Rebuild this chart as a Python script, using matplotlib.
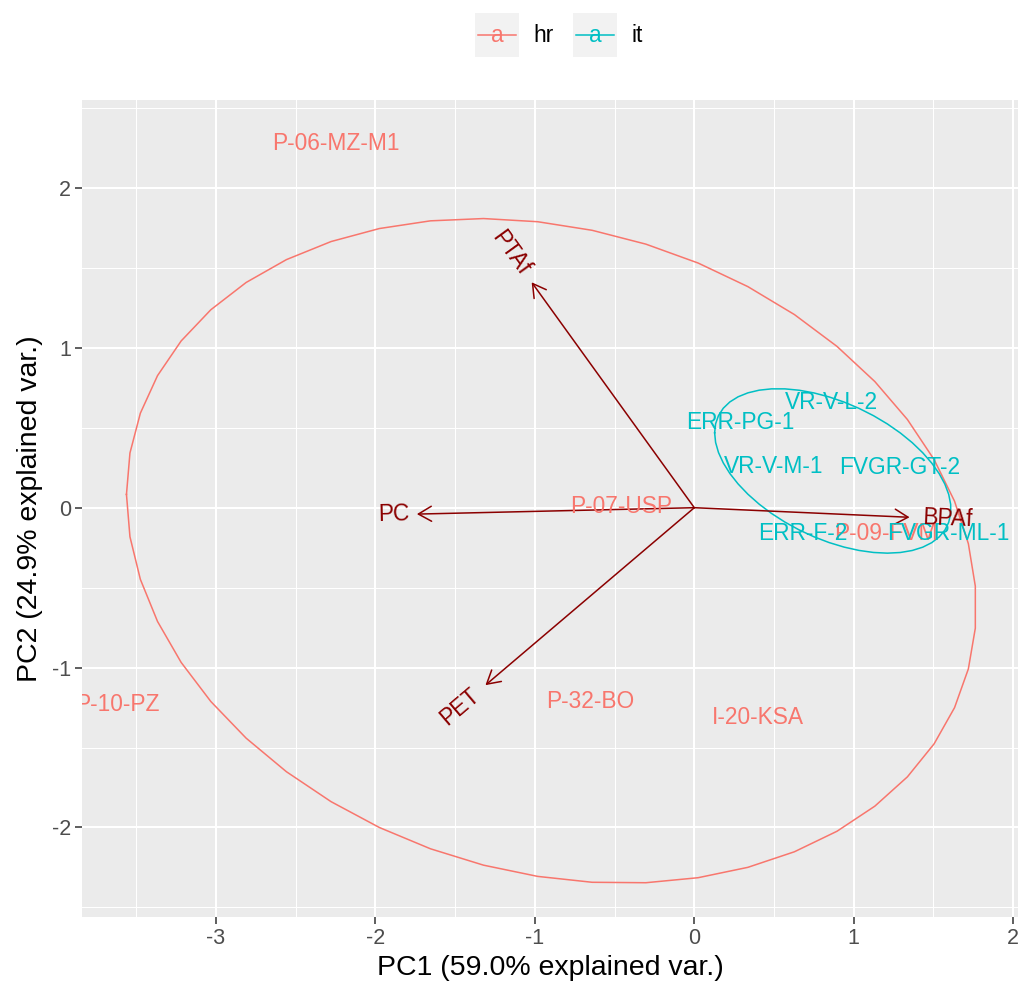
import numpy as np
import matplotlib.pyplot as plt
from matplotlib.patches import Rectangle
from matplotlib.transforms import offset_copy

plt.rcParams["font.family"] = ["Liberation Sans", "DejaVu Sans"]
plt.rcParams["axes.unicode_minus"] = False

GROUPS = ["hr", "it"]
GROUP_COLORS = {"hr": "#F8766D", "it": "#00BFC4"}
ARROW_COLOR = "#8B0000"

# sample scores on PC1 / PC2
hr_labels = ["P-06-MZ-M1", "P-07-USP", "P-10-PZ", "P-32-BO", "I-20-KSA", "P-09-FVM"]
hr_pc1 = [-2.25, -0.46, -3.62, -0.65, 0.40, 1.20]
hr_pc2 = [2.28, 0.01, -1.23, -1.21, -1.31, -0.16]

it_labels = ["VR-V-L-2", "ERR-PG-1", "VR-V-M-1", "FVGR-GT-2", "ERR-F-2", "FVGR-ML-1"]
it_pc1 = [0.86, 0.29, 0.50, 1.29, 0.68, 1.59]
it_pc2 = [0.66, 0.53, 0.26, 0.25, -0.16, -0.16]

# variable loadings (arrow tips)
var_names = ["PTAf", "PC", "PET", "BPAf"]
var_pc1 = [-1.02, -1.74, -1.31, 1.35]
var_pc2 = [1.41, -0.04, -1.11, -0.06]

ELLIPSE_PROB = 0.68

groups = {
    "hr": (hr_labels, hr_pc1, hr_pc2),
    "it": (it_labels, it_pc1, it_pc2),
}


def group_ellipse(x, y, prob=ELLIPSE_PROB, n=50):
    # normal-probability contour of the group scores
    pts = np.column_stack([x, y])
    mu = pts.mean(axis=0)
    sigma = np.cov(pts, rowvar=False)
    ed = np.sqrt(-2 * np.log(1 - prob))
    theta = np.linspace(-np.pi, np.pi, n)
    circle = np.column_stack([np.cos(theta), np.sin(theta)])
    ell = circle @ np.linalg.cholesky(sigma).T * ed + mu
    return ell[:, 0], ell[:, 1]


W, H = 1021, 993
fig = plt.figure(figsize=(W / 100, H / 100), dpi=100)
ax = fig.add_axes([82 / W, 76 / H, 936 / W, 817 / H])

ax.set_facecolor("#EBEBEB")
for s in ax.spines.values():
    s.set_visible(False)
ax.set_xlim(-3.84, 2.03)
ax.set_ylim(-2.56, 2.55)
ax.set_xticks(np.arange(-3, 3))
ax.set_yticks(np.arange(-2, 3))
ax.set_xticks(np.arange(-3.5, 2.5, 1), minor=True)
ax.set_yticks(np.arange(-2.5, 3.0, 1), minor=True)
ax.grid(which="major", color="white", lw=1.5)
ax.grid(which="minor", color="white", lw=0.75)
ax.set_axisbelow(True)
ax.tick_params(which="major", length=5, width=1.1, color="#333333",
               labelsize=15.5, labelcolor="#4D4D4D", pad=3)
ax.tick_params(which="minor", length=0)
ax.set_xlabel("PC1 (59.0% explained var.)", fontsize=20.5, labelpad=4)
ax.set_ylabel("PC2 (24.9% explained var.)", fontsize=20.5, labelpad=6)

# loading arrows
for vx, vy in zip(var_pc1, var_pc2):
    ax.annotate("", xy=(vx, vy), xytext=(0, 0),
                arrowprops=dict(arrowstyle="->,head_length=0.94,head_width=0.54",
                                color=ARROW_COLOR, lw=1.1, shrinkA=0, shrinkB=0,
                                mutation_scale=10))

# sample labels
for g in GROUPS:
    labels, xs, ys = groups[g]
    for lab, x, y in zip(labels, xs, ys):
        ax.text(x, y, lab, color=GROUP_COLORS[g], fontsize=16.4,
                ha="center", va="center", clip_on=True)

# ellipses
for g in GROUPS:
    _, xs, ys = groups[g]
    ex, ey = group_ellipse(xs, ys)
    ax.plot(ex, ey, color=GROUP_COLORS[g], lw=1.1)

# variable names, rotated along the arrow and pushed past its tip
renderer = fig.canvas.get_renderer()
for name, vx, vy in zip(var_names, var_pc1, var_pc2):
    angle = np.degrees(np.arctan(vy / vx))
    hjust = (1 - 1.5 * np.sign(vx)) / 2
    t = ax.text(vx, vy, name, color=ARROW_COLOR, fontsize=16.4,
                ha="left", va="center")
    w = t.get_window_extent(renderer).width
    shift = -hjust * w
    dx, dy = np.cos(np.radians(angle)), np.sin(np.radians(angle))
    t.set_transform(offset_copy(ax.transData, fig=fig, x=shift * dx,
                                y=shift * dy, units="dots"))
    t.set_rotation(angle)
    t.set_rotation_mode("anchor")

# legend across the top
lax = fig.add_axes([0, 0, 1, 1])
lax.set_xlim(0, W)
lax.set_ylim(H, 0)
lax.axis("off")
key_x = [475, 573]
for g, kx in zip(GROUPS, key_x):
    lax.add_patch(Rectangle((kx, 13), 44, 44, facecolor="#F2F2F2", edgecolor="none"))
    lax.plot([kx + 3, kx + 41], [35, 35], color=GROUP_COLORS[g], lw=1.1)
    lax.text(kx + 22, 36, "a", color=GROUP_COLORS[g], fontsize=16.4,
             ha="center", va="center")
    lax.text(kx + 58, 35, g, color="black", fontsize=16.4, ha="left", va="center")

fig.savefig("out.png", dpi=100)
